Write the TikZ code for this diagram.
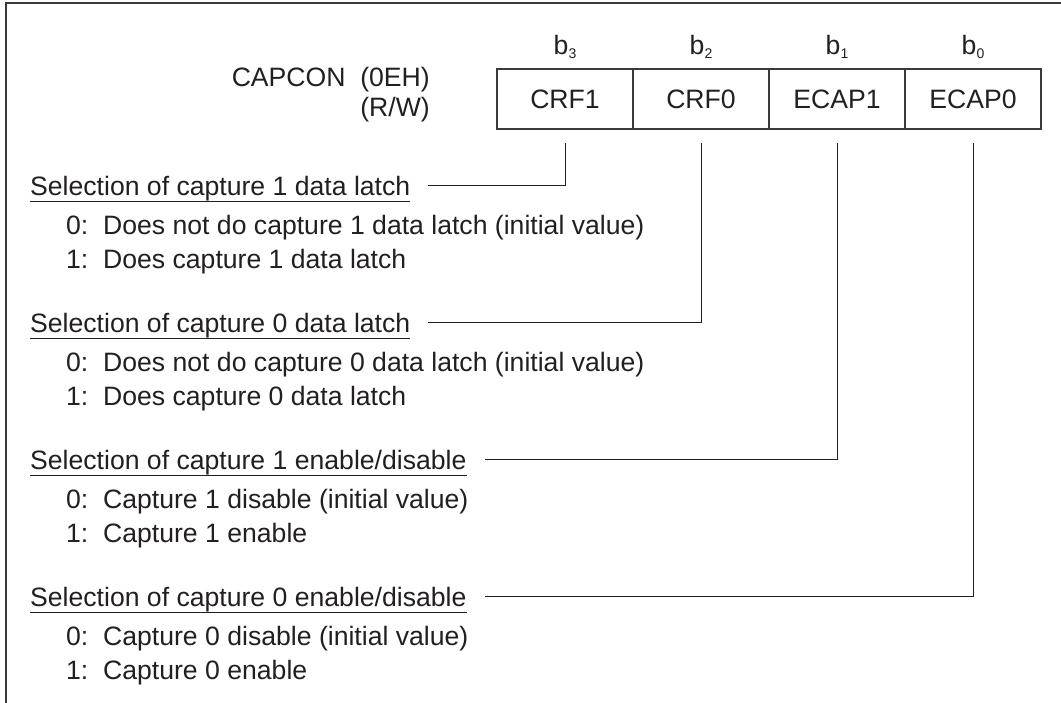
\documentclass[tikz,border=0pt]{standalone}
\usepackage{fontspec}
\setmainfont{Liberation Sans}
\usepackage{tikz}
\usetikzlibrary{positioning}
\definecolor{inkc}{HTML}{231F20}
\definecolor{linec}{HTML}{3A3A3A}
\newcommand{\bitsub}[1]{\raisebox{-4pt}{\fontsize{14}{14}\selectfont #1}}
\tikzset{
  txt/.style={inner sep=0pt,text=inkc,font=\fontsize{26.6}{30}\selectfont},
  cell/.style={txt,draw=linec,line width=1.2pt,minimum width=136pt,minimum height=60pt,outer sep=0pt},
  head/.style={txt,anchor=base west,text height=20pt,text depth=0pt},
  itm/.style={txt,anchor=base west},
  wire/.style={draw=inkc,line width=1pt}
}
\begin{document}
\begin{tikzpicture}[x=1pt,y=-1pt]
\useasboundingbox (0,0) rectangle (1061,703);
\draw[linec,line width=1.6pt] (1061,3) -- (6,3) -- (6,703);
% register
\node[txt,anchor=base east] (reg) at (430,87) {CAPCON~~(0EH)};
\node[txt,anchor=base east] (rw) at (430,117) {(R/W)};
\node[cell] (crf1) at (565,99) {CRF1};
\node[cell,right=0pt of crf1] (crf0) {CRF0};
\node[cell,right=0pt of crf0] (ecap1) {ECAP1};
\node[cell,right=0pt of ecap1] (ecap0) {ECAP0};
\node[txt,anchor=base] (b3) at (crf1.center |- 0,55) {b\bitsub{3}};
\node[txt,anchor=base] (b2) at (crf0.center |- 0,55) {b\bitsub{2}};
\node[txt,anchor=base] (b1) at (ecap1.center |- 0,55) {b\bitsub{1}};
\node[txt,anchor=base] (b0) at (ecap0.center |- 0,55) {b\bitsub{0}};
% bit descriptions
\node[head] (sel1) at (30,196) {Selection of capture 1 data latch};
\node[itm] (sel1a) at (66,235) {0:~~Does not do capture 1 data latch (initial value)};
\node[itm] (sel1b) at (66,269) {1:~~Does capture 1 data latch};
\node[head] (sel2) at (30,333) {Selection of capture 0 data latch};
\node[itm] (sel2a) at (66,372) {0:~~Does not do capture 0 data latch (initial value)};
\node[itm] (sel2b) at (66,406) {1:~~Does capture 0 data latch};
\node[head] (sel3) at (30,469) {Selection of capture 1 enable/disable};
\node[itm] (sel3a) at (66,508) {0:~~Capture 1 disable (initial value)};
\node[itm] (sel3b) at (66,542) {1:~~Capture 1 enable};
\node[head] (sel4) at (30,606) {Selection of capture 0 enable/disable};
\node[itm] (sel4a) at (66,645) {0:~~Capture 0 disable (initial value)};
\node[itm] (sel4b) at (66,679) {1:~~Capture 0 enable};
\foreach \h in {sel1,sel2,sel3,sel4}
  \draw[wire] ([yshift=-6pt]\h.base west) -- ([yshift=-6pt]\h.base east);
\draw[wire] ([yshift=-14pt]crf1.south) |- ([xshift=18pt]sel1.east);
\draw[wire] ([yshift=-14pt]crf0.south) |- ([xshift=18pt]sel2.east);
\draw[wire] ([yshift=-14pt]ecap1.south) |- ([xshift=18pt]sel3.east);
\draw[wire] ([yshift=-14pt]ecap0.south) |- ([xshift=18pt]sel4.east);
\end{tikzpicture}
\end{document}
